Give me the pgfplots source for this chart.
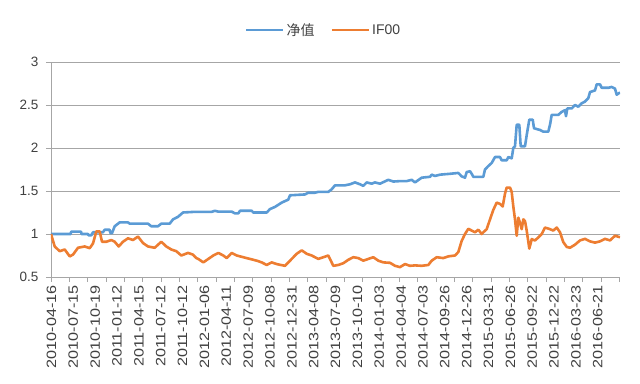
\documentclass[border=0pt]{standalone}
\usepackage{pgfplots}
\pgfplotsset{compat=1.18}
\usepackage{fontspec}
\setmainfont{Liberation Sans}
\newfontfamily\cjk{Noto Sans CJK SC}
\definecolor{cblue}{HTML}{5B9BD5}
\definecolor{corange}{HTML}{ED7D31}
\definecolor{gridc}{HTML}{A6A6A6}
\definecolor{txt}{HTML}{404040}
\begin{document}
\begin{tikzpicture}
\useasboundingbox (-51bp,-107bp) rectangle (589bp,277bp);
\begin{axis}[
  scale only axis, width=569bp, height=215bp,
  xmin=51, xmax=620, ymin=0.5, ymax=3,
  axis x line*=bottom, axis y line*=left,
  axis line style={draw=gridc, line width=0.8bp},
  ymajorgrids, grid style={draw=gridc, line width=0.8bp},
  major tick length=0pt, minor tick length=5bp,
  tick align=outside,
  tick style={draw=gridc, line width=0.8bp},
  ytick={0.5,1,1.5,2,2.5,3},
  yticklabels={0.5,1,1.5,2,2.5,3},
  minor ytick={0.5,1,1.5,2,2.5,3},
  xtick={51.5,73.35,95.2,117.05,138.9,160.75,182.6,204.45,226.3,248.15,270,291.85,313.7,335.55,357.4,379.25,401.1,422.95,444.8,466.65,488.5,510.35,532.2,554.05,575.9,597.75},
  xticklabels={2010-04-16,2010-07-15,2010-10-19,2011-01-12,2011-04-15,2011-07-12,2011-10-12,2012-01-06,2012-04-11,2012-07-09,2012-10-08,2012-12-31,2013-04-08,2013-07-09,2013-10-10,2014-01-03,2014-04-04,2014-07-03,2014-09-26,2014-12-26,2015-03-31,2015-06-26,2015-09-22,2015-12-22,2016-03-23,2016-06-21},
  minor xtick={51,69.33,87.67,106,124.33,142.67,161,179.33,197.67,216,234.33,252.67,271,289.33,307.67,326,344.33,362.67,381,399.33,417.67,436,454.33,472.67,491,509.33,527.67,546,564.33,582.67,601,619.33},
  /pgf/number format/assume math mode=true,
  ticklabel style={font=\fontsize{13.5bp}{15bp}\selectfont, text=txt},
  xticklabel style={yshift=-4bp, rotate=90, anchor=east, xscale=1.2},
  yticklabel style={xshift=-9bp},
  legend style={at={(0.479,1.149)}, anchor=center, draw=none, fill=none,
    legend columns=2, font=\fontsize{14bp}{16bp}\selectfont, text=txt,
    /tikz/every even column/.append style={column sep=14bp}},
  legend image code/.code={\draw[#1, line width=2.6bp] (0bp,0bp) -- (37bp,0bp);},
  line join=round,
]
\addplot[cblue, line width=2.6bp] coordinates {
(51,1.0) (70.7,1.0) (71.2,1.027) (81,1.027) (81.5,1.0) (88,1.0) (88.5,0.985) (91.3,0.985) (93,1.02) (103,1.02) (104.7,1.05) (109.5,1.05) (110.5,1.01) (112,1.01) (114.7,1.09) (119.7,1.135) (128,1.135) (129.7,1.12) (148,1.12) (151.3,1.09) (158,1.09) (161.3,1.12) (169.7,1.12) (173,1.17) (178,1.2) (183,1.25) (195,1.258) (211.7,1.258) (215,1.27) (218.3,1.26) (231.7,1.26) (235,1.24) (238.3,1.24) (240,1.27) (251.7,1.27) (253.3,1.25) (266.7,1.25) (270,1.29) (275,1.315) (281.7,1.365) (288.3,1.40) (290,1.45) (305,1.46) (308.3,1.48) (315,1.48) (318.3,1.49) (328.3,1.49) (331.7,1.52) (335,1.566) (345,1.566) (350,1.578) (355,1.60) (360,1.578) (363.3,1.56) (366.7,1.60) (371.7,1.585) (375,1.60) (380,1.585) (388.3,1.63) (393.3,1.61) (400,1.615) (406.7,1.615) (411.7,1.63) (415,1.60) (421.7,1.655) (430,1.665) (431.7,1.69) (435,1.675) (440,1.69) (450,1.70) (458.3,1.71) (461.7,1.67) (465,1.655) (466.7,1.72) (470,1.73) (471.7,1.70) (473.3,1.665) (483.3,1.665) (485,1.75) (488.3,1.79) (491.7,1.826) (495,1.895) (500,1.895) (501.7,1.857) (506.7,1.857) (508.3,1.895) (511.7,1.88) (513.3,2.0) (515,2.02) (516.7,2.27) (519.3,2.27) (520.7,2.02) (525,2.02) (526.7,2.15) (529.3,2.33) (532.7,2.33) (534,2.23) (536.7,2.22) (540,2.21) (543.3,2.19) (548.3,2.19) (550,2.27) (551.7,2.385) (558.3,2.385) (561.7,2.42) (565,2.44) (566,2.37) (567.3,2.46) (571.7,2.46) (575,2.5) (578.3,2.48) (581.7,2.52) (585,2.54) (588.3,2.58) (590,2.65) (595,2.67) (596.7,2.74) (600,2.74) (601.7,2.70) (608.3,2.70) (611.7,2.71) (615,2.69) (616.7,2.62) (620,2.645)
};
\addlegendentry{\cjk 净值}
\addplot[corange, line width=2.6bp] coordinates {
(51,1.0) (54.7,0.855) (59.7,0.80) (64.7,0.82) (69.7,0.74) (73,0.76) (78,0.84) (84.7,0.855) (89.7,0.835) (93,0.89) (96.3,1.03) (99.7,1.03) (102,0.91) (106.3,0.91) (111.3,0.93) (114.7,0.91) (118.7,0.855) (123,0.91) (128,0.95) (133,0.93) (138,0.97) (143,0.895) (148,0.855) (154.7,0.84) (161.3,0.91) (166.3,0.855) (171.3,0.82) (176.3,0.80) (181.3,0.75) (188,0.78) (193,0.76) (196.3,0.72) (198.3,0.71) (203.3,0.67) (208.3,0.71) (213.3,0.75) (218.3,0.78) (223.3,0.75) (226.7,0.72) (231.7,0.78) (236.7,0.75) (243.3,0.73) (250,0.71) (256.7,0.69) (261.7,0.67) (266.7,0.64) (271.7,0.67) (276.7,0.65) (285,0.63) (291.7,0.71) (296.7,0.77) (301.7,0.81) (306.7,0.77) (311.7,0.75) (318.3,0.71) (323.3,0.73) (328.3,0.75) (333.3,0.63) (338.3,0.64) (343.3,0.66) (348.3,0.70) (353.3,0.73) (358.3,0.72) (363.3,0.69) (368.3,0.71) (373.3,0.73) (378.3,0.69) (383.3,0.67) (390,0.665) (395,0.63) (400,0.615) (405,0.65) (410,0.63) (415,0.635) (421.7,0.63) (428.3,0.64) (431.7,0.69) (436.7,0.73) (443.3,0.72) (448.3,0.74) (455,0.75) (458.3,0.79) (461.7,0.92) (465,1.0) (468.3,1.06) (471.7,1.04) (475,1.02) (478.3,1.05) (481.7,1.0) (483.3,1.02) (486.7,1.056) (490,1.17) (493.3,1.28) (496.7,1.365) (500,1.35) (502.7,1.32) (505,1.47) (506.7,1.54) (510,1.54) (511.7,1.49) (513.3,1.32) (515,1.17) (516.7,0.98) (518.3,1.19) (520,1.13) (521.7,1.056) (523.3,1.17) (525,1.15) (526.7,1.04) (529.3,0.83) (531.7,0.94) (535,0.925) (538.3,0.96) (541.7,1.0) (545,1.075) (550,1.056) (553.3,1.04) (556.7,1.075) (560,1.02) (563.3,0.906) (566.7,0.85) (570,0.84) (575,0.876) (580,0.925) (585,0.944) (590,0.914) (595,0.9) (600,0.914) (605,0.944) (610,0.925) (615,0.98) (620,0.962)
};
\addlegendentry{IF00}
\end{axis}
\end{tikzpicture}
\end{document}
